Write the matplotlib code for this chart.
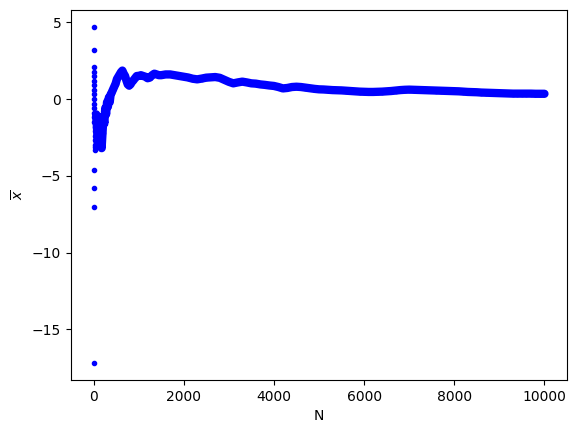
"""
样本均值随样本数 N 的变化
"""
import matplotlib
matplotlib.use('Agg')
import matplotlib.pyplot as plt

# 前几个样本的均值 (N 很小时, 在 x=0 附近成一列)
n_early = [1, 2, 3, 4, 5, 6, 7, 8, 9, 10, 11, 12, 13, 14, 15, 16, 18, 20,
           22, 24, 26, 28, 30, 33, 36, 40, 45, 50]
mean_early = [-17.2, -7.0, -5.8, -4.6, 4.7, 3.2, 2.1, 1.75, 1.5, 1.2, 0.9,
              0.6, 0.3, 0.0, -0.3, -0.6, -0.9, -1.2, -1.5, -1.8, -2.1, -2.4,
              -2.7, -3.0, -3.3, -3.1, -2.8, -2.3]

# 之后的均值
n_main = [60, 80, 100, 120, 140, 160, 180, 200, 220, 240, 260, 280, 300, 320,
          340, 360, 380, 400, 430, 460, 490, 520, 550, 580, 610, 640, 670,
          700, 730, 760, 790, 820, 850, 880, 920, 960, 1000, 1050, 1100, 1150,
          1200, 1250, 1300, 1350, 1400, 1450, 1500, 1600, 1700, 1800, 1900,
          2000, 2100, 2200, 2300, 2400, 2500, 2600, 2700, 2800, 2900, 3000,
          3100, 3200, 3300, 3400, 3500, 3600, 3700, 3800, 3900, 4000, 4100,
          4200, 4300, 4400, 4500, 4600, 4700, 4800, 4900, 5000, 5100, 5200,
          5300, 5400, 5500, 5600, 5700, 5800, 5900, 6000, 6100, 6200, 6300,
          6400, 6500, 6600, 6700, 6800, 6900, 7000, 7100, 7200, 7300, 7400,
          7500, 7600, 7700, 7800, 7900, 8000, 8100, 8200, 8300, 8400, 8500,
          8600, 8700, 8800, 8900, 9000, 9100, 9200, 9300, 9400, 9500, 9600,
          9700, 9800, 9900, 10000]
mean_main = [-1.0, -2.0, -3.0, -2.4, -1.2, -2.6, -3.2, -2.2, -1.2, -1.6, -0.6,
             -1.0, -0.2, -0.5, 0.1, -0.2, 0.3, 0.4, 0.6, 0.8, 1.0, 1.3, 1.45,
             1.6, 1.75, 1.85, 1.65, 1.5, 1.2, 0.95, 0.87, 0.95, 1.1, 1.2,
             1.35, 1.5, 1.5, 1.55, 1.5, 1.45, 1.35, 1.4, 1.55, 1.65, 1.6,
             1.55, 1.55, 1.6, 1.6, 1.55, 1.5, 1.45, 1.4, 1.32, 1.28, 1.33,
             1.39, 1.41, 1.43, 1.38, 1.25, 1.12, 1.02, 1.08, 1.13, 1.08, 1.02,
             1.0, 0.95, 0.92, 0.88, 0.85, 0.78, 0.69, 0.72, 0.78, 0.8, 0.78,
             0.74, 0.7, 0.66, 0.63, 0.62, 0.6, 0.58, 0.57, 0.56, 0.54, 0.52,
             0.5, 0.48, 0.47, 0.46, 0.46, 0.47, 0.48, 0.5, 0.52, 0.55, 0.58,
             0.6, 0.61, 0.6, 0.59, 0.58, 0.57, 0.56, 0.55, 0.54, 0.53, 0.52,
             0.51, 0.5, 0.48, 0.46, 0.45, 0.44, 0.42, 0.41, 0.4, 0.39, 0.38,
             0.37, 0.36, 0.35, 0.35, 0.35, 0.35, 0.35, 0.34, 0.34, 0.34]

fig = plt.figure(figsize=(5.76, 4.32), dpi=100)
ax = fig.add_axes([71 / 576, 52 / 432, 496 / 576, 370 / 432])

ax.plot(n_early, mean_early, 'b.')
ax.plot(n_main, mean_main, color='b', lw=6, solid_capstyle='round')  # 密集点连成的粗带
ax.plot(n_main, mean_main, 'b.')

ax.set_xlabel('N')
ax.set_ylabel(r'$\overline{x}$')

fig.savefig('out.png', dpi=100)
